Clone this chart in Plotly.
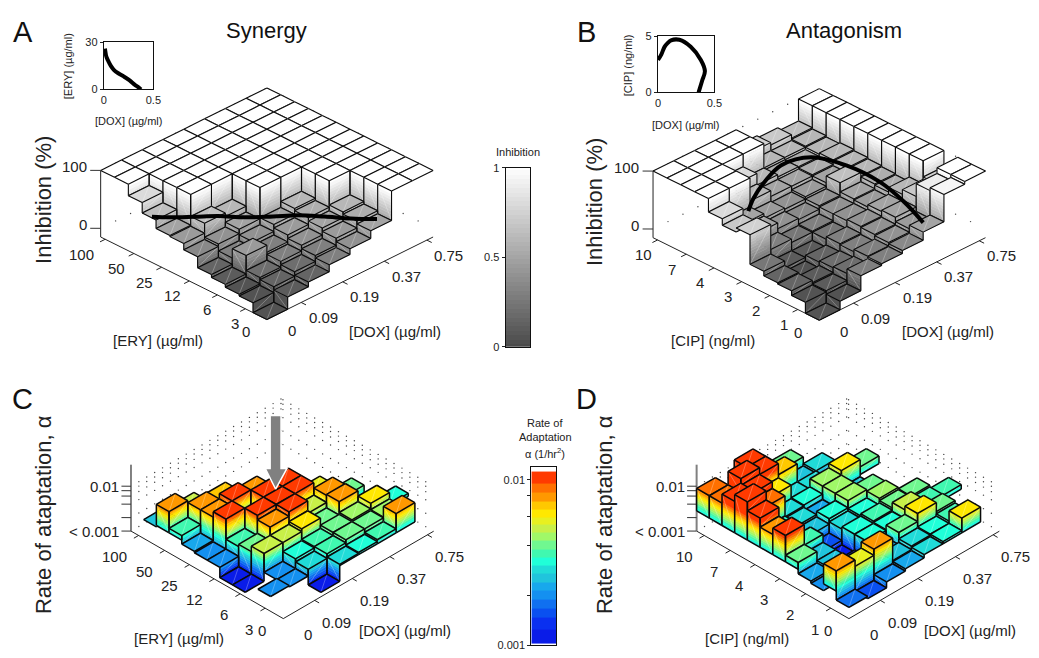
import math
import plotly.graph_objects as go

n = None
W, H = 1039, 658
FONT = "Liberation Sans"
TXT = "#222222"

# rows: ERY / CIP index (front to back); columns: DOX index (front to right)
synergy_inhibition = [
    [-.15, .06, .14, .26, .36, .49, 1, 1],
    [.02, .12, .20, .30, .42, .54, 1, 1],
    [.05, .16, .26, .36, .48, .58, 1, 1],
    [.10, .42, .30, .42, .54, 1, 1, 1],
    [.15, .26, .36, .48, .58, 1, 1, 1],
    [.34, .38, .46, 1, 1, 1, 1, 1],
    [.45, .62, .56, 1, 1, 1, 1, 1],
    [.47, 1, 1, 1, 1, 1, 1, 1],
    [.62, 1, 1, 1, 1, 1, 1, 1],
    [.80, 1, 1, 1, 1, 1, 1, 1],
    [1, 1, 1, 1, 1, 1, 1, 1],
    [1, 1, 1, 1, 1, 1, 1, 1],
]
antagonism_inhibition = [
    [-.15, .00, .26, .29, .34, .48, .95, 1],
    [.04, .06, .18, .30, .36, .42, .90, 1],
    [.12, .08, .16, .26, .38, .50, .68, .72],
    [.14, .04, .14, .28, .40, .48, .60, 1],
    [.22, .10, .10, .24, .38, .44, .52, 1],
    [.73, .30, .24, .26, .38, .46, .54, 1],
    [.66, .46, .36, .34, .40, .62, .56, 1],
    [.77, .50, .42, .40, .44, .50, .58, 1],
    [1, 1, .60, .50, .50, .52, .60, 1],
    [1, 1, .78, .58, .54, .54, .58, 1],
    [1, 1, 1, 1, .58, .58, .60, 1],
    [1, 1, 1, 1, .72, .68, .62, 1],
]
synergy_rate = [
    [n, n, .10, .48, .50, .54, .88, n],
    [.33, .30, .45, .55, .62, .62, .64, n],
    [n, .30, .52, .55, .62, .66, .78, .52],
    [.10, .72, .72, .78, .60, .90, n, n],
    [.10, .60, .90, 1.0, .72, .88, .62, n],
    [.33, .55, 1.0, 1.0, 1.0, .74, n, n],
    [.33, 1.0, .60, 1.0, 1.0, n, n, n],
    [.36, .88, 1.0, .90, n, n, n, n],
    [.55, .88, .85, n, n, n, n, n],
    [.92, .70, n, n, n, n, n, n],
    [.42, n, n, n, n, n, n, n],
    [n, n, n, n, n, n, n, n],
]
antagonism_rate = [
    [.25, .20, .33, .38, .45, .50, .78, n],
    [.90, .76, .90, .40, .48, .50, .55, n],
    [.30, .20, .30, .35, .62, .80, .60, n],
    [.35, .40, .15, .50, .52, .72, .58, .55],
    [.60, .40, .10, .50, .55, .60, .62, n],
    [1.04, .58, .20, .45, .50, .65, n, n],
    [.90, .36, .40, .52, .68, .62, n, n],
    [1.10, .50, .45, .38, .68, .40, n, n],
    [1.30, .95, .48, .50, .68, .78, .62, n],
    [1.15, 1.10, .78, .45, .45, .30, n, n],
    [.95, 1.25, 1.10, .85, .40, .45, n, n],
    [.95, n, 1.10, n, .60, n, n, n],
]

dox_labels = ["0", "0.09", "0.19", "0.37", "0.75"]
ery_labels = ["0", "3", "6", "12", "25", "50", "100"]
cip_labels = ["0", "1", "2", "3", "4", "7", "10"]

syn_curve_i = [0.0, 0.4, 1.0, 1.6, 2.2, 2.9, 3.5, 4.1, 4.7, 5.3]
syn_curve_j = [8.3, 7.6, 6.7, 5.9, 4.9, 3.9, 3.0, 2.0, 1.0, 0.0]
syn_curve_z = [.64, .64, .65, .65, .64, .65, .67, .66, .64, .64]
ant_curve_i = [1.42, 2.17, 3.24, 4.44, 5.55, 6.0, 6.0, 5.63, 5.07]
ant_curve_j = [7.25, 8.0, 8.8, 9.4, 8.9, 7.0, 4.63, 2.37, 0.1]
ant_curve_z = [.62, .62, .62, .62, .62, .62, .62, .62, .62]
syn_inset_dox = [.01, .015, .02, .03, .045, .07, .1, .145, .2, .26, .31, .35, .375]
syn_inset_ery = [26, 24, 22, 20, 18, 15, 12.5, 10.3, 8.3, 5.8, 3.1, 1.3, 0]
ant_inset_dox = [0, .03, .058, .085, .116, .19, .29, .38, .416, .39, .36]
ant_inset_cip = [2.9, 3.4, 4.07, 4.4, 4.65, 4.7, 4.07, 2.9, 1.9, 1.0, 0]

gray_edges = [k / 20 for k in range(21)]
gray_colors = []
for k in range(20):
    g = int(round(0x4a + (255 - 0x4a) * (k + 1) / 20))
    gray_colors.append(f"rgb({g},{g},{g})")
gray_scale = [[0, "#4a4a4a"], [1, "#ffffff"]]
band_colors = ["#0a1ce8", "#0a30f0", "#0a50f0", "#1070f0", "#1490f0", "#18a8ec", "#20c4dc",
               "#20dcd8", "#20ffd8", "#40f8b0", "#70f890", "#a0f868", "#c8f048", "#e8f020",
               "#ffe800", "#ffc800", "#ff9800", "#ff7000", "#ff3a00"]
band_edges = [0, .1, .17, .22, .28, .33, .38, .43, .48, .53, .58, .63, .68, .73, .77, .82, .87, .92, .97, 1.06]
jet_scale = []
for c, a, b in zip(band_colors, band_edges[:-1], band_edges[1:]):
    jet_scale += [[a / 1.06, c], [b / 1.06, c]]


def px(x):
    return x / W


def py(y):
    return 1 - y / H


fig = go.Figure()
ann = []


def band_of(v, edges):
    for k in range(len(edges) - 1):
        if v < edges[k + 1]:
            return max(k, 0)
    return len(edges) - 2


def panel(Z, edges, colors, proj, zlo, zhi, zticks, zlabels, ylabels, base, axis_col, axis_w,
          xtick_pos, ytick_pos, dots, edge_w, shifts, curve=None):
    ox, oy, a, b, c, e, hz = proj

    def P(i, j, z):
        return ox + a * i - b * j, oy - c * i - e * j - (z - zlo) * hz

    def lines(pairs, color, width):
        xs, ys = [], []
        for p, q in pairs:
            u, v = P(*p), P(*q)
            xs += [u[0], v[0], None]; ys += [u[1], v[1], None]
        fig.add_trace(go.Scatter(x=xs, y=ys, mode="lines", line=dict(color=color, width=width),
                                 hoverinfo="skip", showlegend=False))

    # dotted back walls
    xs, ys = [], []
    for zd, cols_i, cols_j in dots:
        for t in cols_i:
            u = P(t, 12, zd)
            xs.append(u[0]); ys.append(u[1])
        for t in cols_j:
            u = P(8, t, zd)
            xs.append(u[0]); ys.append(u[1])
    fig.add_trace(go.Scatter(x=xs, y=ys, mode="markers", marker=dict(color="#444444", size=1.4),
                             hoverinfo="skip", showlegend=False))
    # axes
    pairs = [((0, 0, zlo), (8, 0, zlo)), ((0, 0, zlo), (0, 12, zlo))]
    pairs += [((t, 0, zlo), (t, -.35, zlo)) for t in xtick_pos]
    pairs += [((-.25, t, zlo), (0, t, zlo)) for t in ytick_pos]
    lines(pairs, "#222222", 1)
    lines([((0, 12, zlo), (0, 12, zhi))], axis_col, axis_w)
    lines([((0, 12, t), (-.25, 12.38, t)) for t in zticks], "#333333", 1)

    ny, nx = len(Z), len(Z[0])
    for d in range(nx + ny - 2, -1, -1):
        groups, edges_lines, diag = {}, [], []

        def add(k, pts):
            g = groups.setdefault(k, ([], []))
            for q in pts + [pts[0]]:
                u = P(*q)
                g[0].append(u[0]); g[1].append(u[1])
            g[0].append(None); g[1].append(None)

        def wall(p0, p1, lo, hi):
            diag.append(((*p0, lo), (*p1, hi)))
            cuts = [lo] + [x for x in edges if lo < x < hi] + [hi]
            for s, t in zip(cuts[:-1], cuts[1:]):
                add(band_of((s + t) / 2, edges), [(*p0, s), (*p1, s), (*p1, t), (*p0, t)])
            edges_lines.extend([((*p0, lo), (*p0, hi)), ((*p1, lo), (*p1, hi)), ((*p0, lo), (*p1, lo))])

        for j in range(ny):
            i = d - j
            if i < 0 or i >= nx or Z[j][i] is None:
                continue
            z = Z[j][i]
            left = Z[j][i - 1] if i > 0 else None
            if left is None:
                left = min(z, base) if base is not None else z
            if left < z:
                wall((i, j), (i, j + 1), left, z)
            front = Z[j - 1][i] if j > 0 else None
            if front is None:
                front = min(z, base) if base is not None else z
            if front < z:
                wall((i, j), (i + 1, j), front, z)
            corners = [(i, j, z), (i + 1, j, z), (i + 1, j + 1, z), (i, j + 1, z)]
            add(band_of(max(z - .001, edges[0]), edges), corners)
            diag.append((corners[0], corners[2]))
            edges_lines.extend(zip(corners, corners[1:] + corners[:1]))
        for k, (gx, gy) in groups.items():
            fig.add_trace(go.Scatter(x=gx, y=gy, mode="lines", fill="toself", fillcolor=colors[k],
                                     line=dict(color=colors[k], width=.5), hoverinfo="skip", showlegend=False))
        if diag:
            lines(diag, "rgba(255,255,255,0.45)", .6)
        if edges_lines:
            lines(edges_lines, "#0a0a0a", edge_w)
    if curve:
        pts = [P(*q) for q in zip(*curve)]
        fig.add_trace(go.Scatter(x=[p[0] for p in pts], y=[p[1] for p in pts], mode="lines",
                                 line=dict(color="#000000", width=4, shape="spline"), hoverinfo="skip", showlegend=False))

    def lab(q, text, xs, ys, anchor="center"):
        u = P(*q)
        ann.append(dict(x=u[0], y=u[1], xref="x", yref="y", text=text, showarrow=False, xshift=xs, yshift=ys,
                        xanchor=anchor, yanchor="middle", font=dict(family=FONT, size=15, color=TXT)))

    dx0, dxy, yx1, yx2, yx3, yy, zs = shifts
    for t, s in zip([0] + xtick_pos, dox_labels):
        if s == "0":
            lab((0, 0, zlo), s, 25, dx0)
        else:
            lab((t, 0, zlo), s, 22, dxy)
    for t, s in zip([0] + ytick_pos, ylabels):
        if s == "0":
            lab((0, 0, zlo), s, -21, -12)
        else:
            lab((0, t, zlo), s, {1: yx1, 2: yx2, 3: yx3}[len(s)], yy)
    for t, s in zlabels:
        lab((0, 12, t), s, -12 if zs else -10, zs, "right")


x_t = [1.65, 3.65, 5.65, 7.7]
y_t = [1.55, 3.57, 5.6, 7.6, 9.6, 11.67]
x_t2 = [1.67, 3.67, 5.67, 7.67]
y_t2 = [1.43, 3.4, 5.45, 7.4, 9.35, 11.4]
dot_i = [k * .72 for k in range(1, 12)]
dot_j = [k * 1.08 for k in range(1, 12)]
ab_dots = [(0, dot_i, dot_j), (1, dot_i, dot_j)]
log_ticks = [0, .3, .6, .78, .9, 1.0]
wall_i = [k * .42 for k in range(1, 20)]
wall_j = [k * .625 for k in range(1, 20)]
cd_dots = [(z, wall_i, wall_j) for z in log_ticks]

proj_a = (266.7, 319.3, 21, 14, 10.5, 7, 59)
proj_b = (825, 320, 21, 14, 10.5, 7, 59)
proj_c = (283.3, 624, 19, 12.83, 11.13, 7.43, 45.7)
proj_d = (855, 624, 19, 12.83, 11.13, 7.43, 45.7)
panel(synergy_inhibition, gray_edges, gray_colors, proj_a, -.15, 1, [0, 1], [(0, "0"), (1, "100")], ery_labels,
      None, "#222222", 1, x_t, y_t, ab_dots, 1.1, (-11, -15, -10, -17, -24, -15, 4),
      (syn_curve_i, syn_curve_j, syn_curve_z))
panel(antagonism_inhibition, gray_edges, gray_colors, proj_b, -.15, 1, [0, 1], [(0, "0"), (1, "100")], cip_labels,
      None, "#222222", 1, x_t, y_t, ab_dots, 1.1, (-11, -15, -14, -14, -24, -15, 4),
      (ant_curve_i, ant_curve_j, ant_curve_z))
panel(synergy_rate, band_edges, band_colors, proj_c, 0, 1.48, log_ticks, [(0, "&lt; 0.001"), (1.0, "0.01")], ery_labels,
      .45, "#808080", 2, x_t2, y_t2, cd_dots, 1.5, (-16, -22, -16, -20, -24, -21, 0))
panel(antagonism_rate, band_edges, band_colors, proj_d, 0, 1.48, log_ticks, [(0, "&lt; 0.001"), (1.0, "0.01")], cip_labels,
      .45, "#808080", 2, x_t2, y_t2, cd_dots, 1.5, (-16, -22, -16, -20, -24, -21, 0))


def note(x, y, text, size=15, rot=0, color=TXT):
    ann.append(dict(x=px(x), y=py(y), xref="paper", yref="paper", text=text, showarrow=False,
                    textangle=rot, font=dict(family=FONT, size=size, color=color),
                    xanchor="center", yanchor="middle"))


for x, y, t in [(20, 26, "A"), (590, 26, "B"), (20, 400, "C"), (590, 400, "D")]:
    note(x, y, t, 29, color="#111111")
note(266, 25, "Synergy", 22, color="#111111")
note(850, 25, "Antagonism", 22, color="#111111")
note(41, 198, "Inhibition (%)", 22, -90)
note(598, 200, "Inhibition (%)", 22, -90)
note(41, 518, "Rate of ataptation, α", 22, -90)
note(608, 518, "Rate of ataptation, α", 22, -90)
note(157, 341, "[ERY] (µg/ml)")
note(396, 332, "[DOX] (µg/ml)")
note(718, 341, "[CIP] (ng/ml)")
note(955, 332, "[DOX] (µg/ml)")
note(178, 644, "[ERY] (µg/ml)")
note(406, 636, "[DOX] (µg/ml)")
note(752, 644, "[CIP] (ng/ml)")
note(977, 636, "[DOX] (µg/ml)")
note(66, 61, "[ERY] (µg/ml)", 11, -90)
note(127, 117, "[DOX] (µg/ml)", 11)
note(632, 60, "[CIP] (ng/ml)", 11, -90)
note(690, 121, "[DOX] (µg/ml)", 11)
note(521, 149, "Inhibition", 11)
note(548, 425, "Rate of", 11)
note(548, 439, "Adaptation", 11)
note(548, 455, "α (1/hr<sup>2</sup>)", 11)


def add_axes(idx, x0, x1, y0, y1, xr, yr, xt, xl, yt, yl, minor=None):
    xa, ya = f"xaxis{idx}", f"yaxis{idx}"
    fig.layout[xa] = dict(domain=[px(x0), px(x1)], range=xr, anchor=f"y{idx}", tickvals=xt, ticktext=xl,
                          showgrid=False, zeroline=False, showline=True, linecolor="#111111", linewidth=1.2,
                          mirror=True, ticks="", fixedrange=True,
                          tickfont=dict(family=FONT, size=11, color=TXT))
    fig.layout[ya] = dict(domain=[py(y1), py(y0)], range=yr, anchor=f"x{idx}", tickvals=yt, ticktext=yl,
                          showgrid=False, zeroline=False, showline=True, linecolor="#111111", linewidth=1.2,
                          mirror=True, ticks="outside", ticklen=3, tickcolor="#222222", fixedrange=True,
                          tickfont=dict(family=FONT, size=11, color=TXT))
    if minor:
        fig.layout[ya].minor = dict(tickvals=minor, ticks="outside", ticklen=3, tickcolor="#222222")


fig.add_trace(go.Scatter(x=syn_inset_dox, y=syn_inset_ery, mode="lines", line=dict(color="#000", width=4, shape="spline"),
                         xaxis="x2", yaxis="y2", showlegend=False, hoverinfo="skip"))
add_axes(2, 102, 152, 37, 85, [0, .5], [0, 30], [0, .5], ["0", "0.5"], [0, 30], ["0", "30"])
fig.add_trace(go.Scatter(x=ant_inset_dox, y=ant_inset_cip, mode="lines", line=dict(color="#000", width=4, shape="spline"),
                         xaxis="x3", yaxis="y3", showlegend=False, hoverinfo="skip"))
add_axes(3, 662, 719, 31, 88, [0, .5], [0, 5], [0, .5], ["0", "0.5"], [0, 5], ["0", "5"])

gray_levels = [k / 40 for k in range(41)]
fig.add_trace(go.Heatmap(z=[[v] for v in gray_levels], y=gray_levels, x=[0], colorscale=gray_scale, zmin=0, zmax=1,
                         showscale=False, xaxis="x4", yaxis="y4", hoverinfo="skip"))
add_axes(4, 508, 533, 165, 347, [-.5, .5], [0, 1], [], [], [0, .5, 1], ["0", "0.5", "1"])
rate_levels = [(a + b) / 2 for a, b in zip(band_edges[:-1], band_edges[1:])]
rate_pos = [math.log10(.001) + v for v in rate_levels]
fig.add_trace(go.Heatmap(z=[[v] for v in rate_levels], y=rate_pos, x=[0], colorscale=jet_scale, zmin=0, zmax=1.06,
                         showscale=False, xaxis="x5", yaxis="y5", hoverinfo="skip"))
add_axes(5, 534, 559, 470, 651, [-.5, .5], [-3, -1.925], [], [],
         [-3, -2], ["0.001", "0.01"],
         minor=[math.log10(v) for v in [.002, .004, .006, .008]])

arrow = [(270, 417), (281, 417), (281, 471), (287, 471), (275.5, 492), (265, 471), (270, 471)]
fig.add_trace(go.Scatter(x=[p[0] for p in arrow] + [270], y=[p[1] for p in arrow] + [417], mode="lines", fill="toself",
                         fillcolor="#808080", line=dict(color="#ffffff", width=1.5), hoverinfo="skip", showlegend=False))

fig.update_layout(width=W, height=H, autosize=False, margin=dict(l=0, r=0, t=0, b=0), paper_bgcolor="white",
                  plot_bgcolor="rgba(0,0,0,0)", showlegend=False, annotations=ann, font=dict(family=FONT),
                  xaxis=dict(range=[0, W], domain=[0, 1], visible=False, fixedrange=True),
                  yaxis=dict(range=[H, 0], domain=[0, 1], visible=False, fixedrange=True))
fig.write_html("out.html", config=dict(displayModeBar=False),
               post_script="document.body.style.margin='0';")
